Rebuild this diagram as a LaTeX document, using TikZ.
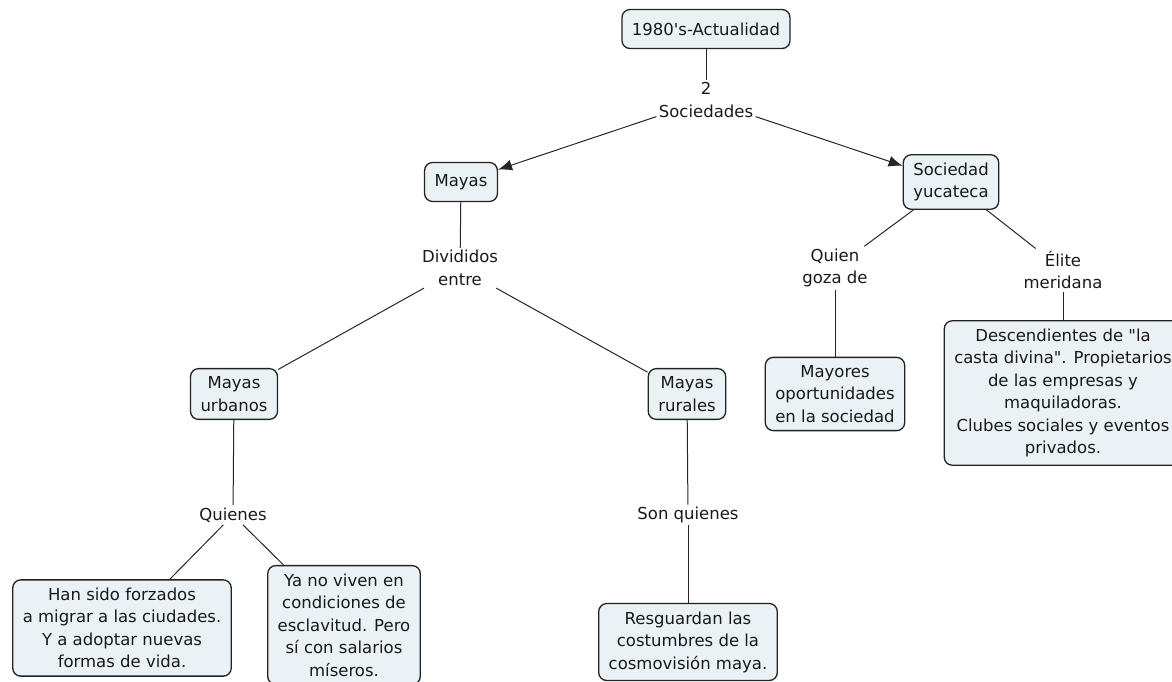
\documentclass[tikz,border=0pt]{standalone}
\usepackage{fontspec}
\setmainfont{DejaVu Sans}
\usepackage{tikz}
\usetikzlibrary{positioning, calc, arrows.meta}
\definecolor{boxfill}{RGB}{234,242,246}
\definecolor{boxline}{RGB}{35,35,35}

\begin{document}
\begin{tikzpicture}[x=1pt,y=-1pt,
        conceptbox/.style={draw=boxline, fill=boxfill, rounded corners=8pt, line width=1.3pt,
            align=center, inner xsep=10pt, inner ysep=8pt, minimum height=39pt},
        linkword/.style={align=center, inner sep=2pt},
        >={Latex[length=14pt,width=11pt]},line width=1pt,draw=black!85]
        \tikzstyle{every node}=[font=\fontsize{16.5}{22.5}\selectfont, text=black!90]
            \useasboundingbox (0,0) rectangle (1172,681);
            % top of the map
            \node[conceptbox] (period) at (706,29) {1980\textquotesingle s-Actualidad};
            \node[linkword] (twosoc) at (706,100) {2\\Sociedades};
            \node[conceptbox] (mayas) at (461,182) {Mayas};
            \node[conceptbox] (yucateca) at (951,182) {Sociedad\\yucateca};
            % mayas branch
            \node[linkword] (divididos) at (460,268) {Divididos\\entre};
            \node[conceptbox] (urbanos) at (234,394) {Mayas\\urbanos};
            \node[conceptbox] (rurales) at (687,394) {Mayas\\rurales};
            \node[linkword] (quienes) at (233,515) {Quienes};
            \node[linkword] (sonquienes) at (688,515) {Son quienes};
            \node[conceptbox] (forzados) at (122,628) {Han sido forzados\\a migrar a las ciudades.\\Y a adoptar nuevas\\formas de vida.};
            \node[conceptbox] (esclavitud) at (344,625) {Ya no viven en\\condiciones de\\esclavitud. Pero\\sí con salarios\\míseros.};
            \node[conceptbox] (costumbres) at (688,642) {Resguardan las\\costumbres de la\\cosmovisión maya.};
            % yucatecan branch
            \node[linkword] (goza) at (835,268) {Quien\\goza de};
            \node[linkword] (elite) at (1063,270) {Élite\\meridana};
            \node[conceptbox] (oportunidades) at (835,394) {Mayores\\oportunidades\\en la sociedad};
            \node[conceptbox] (casta) at (1063,393) {Descendientes de \textquotedbl la\\casta divina\textquotedbl. Propietarios\\de las empresas y\\maquiladoras.\\Clubes sociales y eventos\\privados.};

            \draw (period) -- (twosoc);
            \draw[->] (twosoc) -- (mayas);
            \draw[->] (twosoc) -- (yucateca);
            \draw (mayas) -- (divididos);
            \draw (divididos) -- (urbanos);
            \draw (divididos) -- (rurales);
            \draw (urbanos) -- (quienes);
            \draw (quienes) -- (forzados);
            \draw (quienes) -- (esclavitud);
            \draw (rurales) -- (sonquienes);
            \draw (sonquienes) -- (costumbres);
            \draw (yucateca) -- (goza);
            \draw (yucateca) -- (elite);
            \draw (goza) -- (oportunidades);
            \draw (elite) -- (casta);
        \end{tikzpicture}
\end{document}
